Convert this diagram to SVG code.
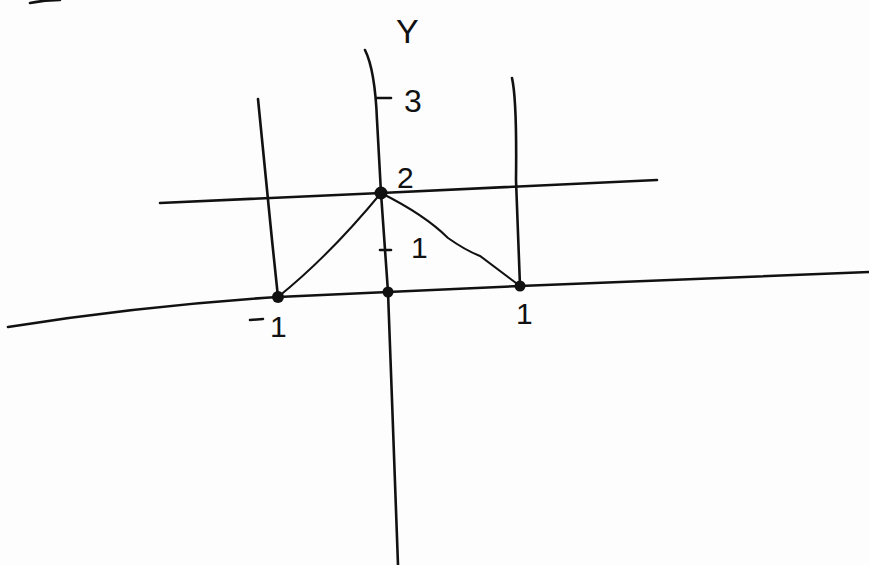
<svg xmlns="http://www.w3.org/2000/svg" width="869" height="565" viewBox="0 0 869 565">
<style>
.ln{fill:none;stroke:#111;stroke-width:2.6;stroke-linecap:round;stroke-linejoin:round}
.thin{fill:none;stroke:#111;stroke-width:2;stroke-linecap:round}
.dot{fill:#111}
.lb{font-family:"Liberation Sans",Arial,sans-serif;fill:#111;font-weight:300}
</style>
<rect width="869" height="565" fill="#fdfdfd"/>
<g id="connectors">
<path class="ln" d="M30,3 Q45,0 60,0"/>
<path id="x-axis" class="ln" d="M8,327 Q140,306 278,297 L388,292 L520,286 L869,272"/>
<path id="y-axis" class="ln" d="M365,50 Q375,70 377,120 L381,193 L388,292 L392,400 L398,565"/>
<path id="line-y2" class="ln" d="M160,203 L381,193 L657,180"/>
<path id="line-xm1" class="ln" d="M258,99 Q264,160 272,240 L278,297"/>
<path id="line-x1" class="ln" d="M512,78 Q517,100 516,180 L520,286"/>
<path id="tri-left" class="thin" d="M278,297 Q330,255 381,193"/>
<path id="tri-right" class="thin" d="M381,193 Q425,215 448,238 Q465,250 480,256 L520,286"/>
<path class="ln" d="M377,98 L391,98"/>
<path class="ln" d="M380,250 L391,250"/>
<path class="ln" d="M250,320 L263,319"/>
</g>
<g id="p-m1"><circle class="dot" cx="278" cy="297" r="6"/></g>
<g id="p-2"><circle class="dot" cx="381" cy="193" r="6.5"/></g>
<g id="p-0"><circle class="dot" cx="388" cy="292" r="5.5"/></g>
<g id="p-1"><circle class="dot" cx="520" cy="286" r="5.5"/></g>
<g id="labels">
<text class="lb" x="396" y="43" font-size="34">Y</text>
<text class="lb" x="404" y="112" font-size="32">3</text>
<text class="lb" x="397" y="188" font-size="30">2</text>
<text class="lb" x="411" y="258" font-size="30">1</text>
<text class="lb" x="270" y="337" font-size="30">1</text>
<text class="lb" x="516" y="324" font-size="30">1</text>
</g>
</svg>
